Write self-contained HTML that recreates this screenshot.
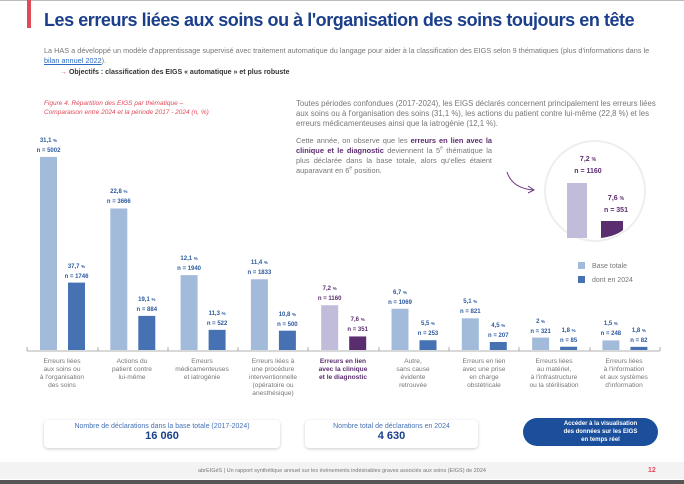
<html><head><style>
body{margin:0;width:684px;height:484px;background:#fff;font-family:"Liberation Sans",sans-serif;position:relative;overflow:hidden}
.a{position:absolute}
.t{font-size:7.2px;color:#777;line-height:9.5px}
.lb{position:absolute;width:68px;text-align:center;font-size:6.6px;line-height:8px;color:#777;top:358px}
.v{position:absolute;width:40px;text-align:center;font-size:6px;font-weight:bold;color:#2d5a9e;line-height:10px}
sup{line-height:0;font-size:5px}
</style></head><body>
<div class="a" style="left:0;top:0;width:684px;height:1px;background:#bbb"></div>
<div class="a" style="left:27px;top:0;width:4px;height:28px;background:#e04a5a"></div>
<div class="a" style="left:44px;top:10px;font-size:18px;font-weight:bold;color:#1b3f8b;letter-spacing:-0.45px;white-space:nowrap">Les erreurs liées aux soins ou à l'organisation des soins toujours en tête</div>
<div class="a t" style="left:44px;top:46px;width:622px;font-size:7.3px">La HAS a développé un modèle d'apprentissage supervisé avec traitement automatique du langage pour aider à la classification des EIGS selon 9 thématiques (plus d'informations dans le <span style="color:#2a6bc4;text-decoration:underline">bilan annuel 2022</span>).</div>
<div class="a" style="left:60px;top:69px;font-size:7px;font-weight:bold;color:#333"><span style="color:#e04a5a">→</span> Objectifs : classification des EIGS « automatique » et plus robuste</div>
<div class="a" style="left:44px;top:99px;font-size:6.5px;font-style:italic;color:#e04a5a;line-height:9px">Figure 4. Répartition des EIGS par thématique –<br>Comparaison entre 2024 et la période 2017 - 2024 (n, %)</div>
<div class="a t" style="left:296px;top:99px;width:362px;font-size:7.8px;line-height:10px">Toutes périodes confondues (2017-2024), les EIGS déclarés concernent principalement les erreurs liées aux soins ou à l'organisation des soins (31,1 %), les actions du patient contre lui-même (22,8 %) et les erreurs médicamenteuses ainsi que la iatrogénie (12,1 %).</div>
<div class="a t" style="left:296px;top:136px;width:196px;font-size:7.4px;line-height:10px;text-align:justify">Cette année, on observe que les <b style="color:#5a2d6e">erreurs en lien avec la clinique et le diagnostic</b> deviennent la 5<sup>e</sup> thématique la plus déclarée dans la base totale, alors qu'elles étaient auparavant en 6<sup>e</sup> position.</div>
<svg class="a" style="left:0;top:0" width="684" height="484">
<path d="M507 172 Q512 188 533 190" fill="none" stroke="#6b3a7d" stroke-width="1"/>
<path d="M528 186 L534 190 L528 193" fill="none" stroke="#6b3a7d" stroke-width="1"/>
<circle cx="595" cy="191" r="50" fill="#fff" stroke="#eee" stroke-width="2"/>
<rect x="567" y="183" width="20" height="55" fill="#c2bcdb"/>
<path d="M601 221 L623 221 L623 230 Q616 236 601 238 Z" fill="#5a2d6e"/>
<line x1="27" y1="351" x2="660" y2="351" stroke="#999" stroke-width="0.8"/>
<g stroke="#999" stroke-width="0.8">
<line x1="27" y1="347" x2="27" y2="351"/><line x1="98" y1="347" x2="98" y2="351"/><line x1="168" y1="347" x2="168" y2="351"/><line x1="238" y1="347" x2="238" y2="351"/><line x1="308" y1="347" x2="308" y2="351"/><line x1="379" y1="347" x2="379" y2="351"/><line x1="449" y1="347" x2="449" y2="351"/><line x1="519" y1="347" x2="519" y2="351"/><line x1="590" y1="347" x2="590" y2="351"/><line x1="660" y1="347" x2="660" y2="351"/>
</g>
<rect x="578" y="262" width="7" height="7" fill="#a3bbdb"/>
<rect x="578" y="276" width="7" height="7" fill="#4672b4"/>
<text x="592" y="268" font-size="7" fill="#777" font-family="Liberation Sans">Base totale</text>
<text x="592" y="282" font-size="7" fill="#777" font-family="Liberation Sans">dont en 2024</text>
<g id="bars"></g>
</svg>
<div id="v"></div>
<div class="a" style="left:568px;top:154px;width:40px;text-align:center;font-size:7px;font-weight:bold;color:#5a2d6e;line-height:12px">7,2 <span style="font-size:5px">%</span><br>n = 1160</div>
<div class="a" style="left:596px;top:193px;width:40px;text-align:center;font-size:7px;font-weight:bold;color:#5a2d6e;line-height:12px">7,6 <span style="font-size:5px">%</span><br>n = 351</div>
<div class="lb" style="left:28px">Erreurs liées<br>aux soins ou<br>à l'organisation<br>des soins</div>
<div class="lb" style="left:98px">Actions du<br>patient contre<br>lui-même</div>
<div class="lb" style="left:168px">Erreurs<br>médicamenteuses<br>et iatrogénie</div>
<div class="lb" style="left:239px">Erreurs liées à<br>une procédure<br>interventionnelle<br>(opératoire ou<br>anesthésique)</div>
<div class="lb" style="left:309px;color:#5a2d6e;font-weight:bold">Erreurs en lien<br>avec la clinique<br>et le diagnostic</div>
<div class="lb" style="left:379px">Autre,<br>sans cause<br>évidente<br>retrouvée</div>
<div class="lb" style="left:450px">Erreurs en lien<br>avec une prise<br>en charge<br>obstétricale</div>
<div class="lb" style="left:520px">Erreurs liées<br>au matériel,<br>à l'infrastructure<br>ou la stérilisation</div>
<div class="lb" style="left:590px">Erreurs liées<br>à l'information<br>et aux systèmes<br>d'information</div>
<div class="a" style="left:44px;top:420px;width:236px;height:28px;border-radius:4px;box-shadow:0 1px 3px rgba(0,0,0,.2);text-align:center"><div style="font-size:7px;color:#4672b4;margin-top:3px">Nombre de déclarations dans la base totale (2017-2024)</div><div style="font-size:11px;font-weight:bold;color:#1b3f8b">16 060</div></div>
<div class="a" style="left:305px;top:420px;width:173px;height:28px;border-radius:4px;box-shadow:0 1px 3px rgba(0,0,0,.2);text-align:center"><div style="font-size:7px;color:#4672b4;margin-top:3px">Nombre total de déclarations en 2024</div><div style="font-size:11px;font-weight:bold;color:#1b3f8b">4 630</div></div>
<div class="a" style="left:523px;top:418px;width:135px;height:28px;border-radius:14px;background:#1b4f9c;color:#fff;font-size:6px;font-weight:bold;text-align:center;line-height:8px;padding-top:2px;box-sizing:border-box"><div style="margin-left:20px">Accéder à la visualisation<br>des données sur les EIGS<br>en temps réel</div></div>
<div class="a" style="left:0;top:462px;width:684px;height:17px;background:#f3f3f3"></div>
<div class="a" style="left:0;width:684px;text-align:center;font-size:5.5px;color:#777;top:468px">abrEIGéS | Un rapport synthétique annuel sur les évènements indésirables graves associés aux soins (EIGS) de 2024</div>
<div class="a" style="left:648px;top:467px;font-size:7px;color:#e04a5a;font-weight:bold">12</div>
<div class="a" style="left:0;top:480px;width:684px;height:4px;background:#555"></div>
<script>
var d=[[31.1,5002,37.7,1746],[22.8,3666,19.1,884],[12.1,1940,11.3,522],[11.4,1833,10.8,500],[7.2,1160,7.6,351],[6.7,1069,5.5,253],[5.1,821,4.5,207],[2,321,1.8,85],[1.5,248,1.8,82]];
var s='',h='',k=0.0386,B=350;
function f(x){return String(x).replace('.',',')}
d.forEach(function(r,i){var x=40+70.3*i,p=i==4;
var h1=r[1]*k,h2=Math.max(r[3]*k,3);
s+='<rect x="'+x+'" y="'+(B-h1)+'" width="17" height="'+h1+'" fill="'+(p?'#c2bcdb':'#a3bbdb')+'"/>';
s+='<rect x="'+(x+28)+'" y="'+(B-h2)+'" width="17" height="'+h2+'" fill="'+(p?'#5a2d6e':'#4672b4')+'"/>';
var c=p?'color:#5a2d6e':'';
h+='<div class="v" style="left:'+(x-11.5)+'px;top:'+(B-h1-21)+'px;'+c+'">'+f(r[0])+' <span style="font-size:4.5px">%</span><br>n = '+r[1]+'</div>';
h+='<div class="v" style="left:'+(x+16.5)+'px;top:'+(B-h2-21)+'px;'+c+'">'+f(r[2])+' <span style="font-size:4.5px">%</span><br>n = '+r[3]+'</div>';});
document.getElementById('bars').innerHTML=s;document.getElementById('v').innerHTML=h;
</script>
</body></html>
